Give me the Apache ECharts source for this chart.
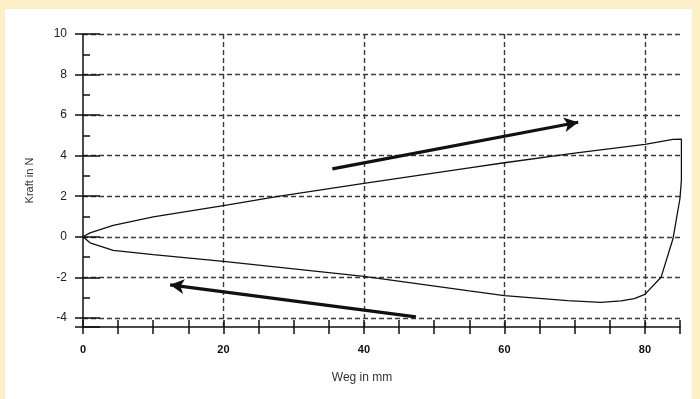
<!DOCTYPE html>
<html>
<head>
<meta charset="utf-8">
<script src="https://cdn.jsdelivr.net/npm/echarts@6/dist/echarts.min.js"></script>
<style>
  html, body { margin: 0; padding: 0; background: #fdf0c9; }
  #container { position: absolute; left: 5px; top: 9px; width: 687px; height: 390px; background: #fff; }
</style>
</head>
<body>
<div id="container"></div>
<script>
// Messwerte: Hinweg (Belastung) und Rueckweg (Entlastung)
var wegHin = [0, 1, 4.3, 10, 20, 28, 40, 55, 60, 70, 80, 84, 85.2];
var kraftHin = [0, 0.19, 0.56, 0.98, 1.54, 2.0, 2.63, 3.4, 3.65, 4.13, 4.56, 4.8, 4.82];
var wegRueck = [85.2, 85.2, 85, 84, 82.3, 80, 78.5, 76.6, 73.7, 69, 60, 55, 40, 28, 20, 10, 4.3, 1, 0];
var kraftRueck = [4.82, 2.8, 1.9, -0.1, -2.0, -2.84, -3.05, -3.16, -3.24, -3.15, -2.9, -2.67, -1.95, -1.51, -1.21, -0.88, -0.67, -0.3, 0];

// Pfeile (Start, Spitze)
var pfeilOben = [[35.5, 3.35], [70.5, 5.65]];
var pfeilUnten = [[47.4, -3.95], [12.4, -2.37]];

var xTicks = [0, 20, 40, 60, 80];
var yTicks = [-4, -2, 0, 2, 4, 6, 8, 10];

var dom = document.getElementById("container");
var myChart = echarts.init(dom);

var kurve = [];
for (var i = 0; i < wegHin.length; i++) kurve.push([wegHin[i], kraftHin[i]]);
for (var j = 0; j < wegRueck.length; j++) kurve.push([wegRueck[j], kraftRueck[j]]);

var dash = { color: '#3a3a3a', width: 1.4, type: [5, 3] };
var xMin = 0, xMax = 85, yMin = -4.45, yMax = 10;

option = {
    animation: false,
    grid: { left: 78, top: 25, right: 12, bottom: 72 },
    xAxis: [
        {
            type: 'value', min: xMin, max: xMax, interval: 20,
            name: 'Weg in mm', nameLocation: 'middle', nameGap: 45,
            nameTextStyle: { color: '#333', fontSize: 12, fontFamily: 'Liberation Sans', padding: [0, 39, 0, 0] },
            axisLine: { show: true, onZero: false, lineStyle: { color: '#111', width: 1.5 } },
            axisTick: { show: false },
            axisLabel: {
                color: '#111', fontSize: 11, fontWeight: 'bold', fontFamily: 'Liberation Sans', margin: 17,
                formatter: function (v) { return xTicks.indexOf(v) >= 0 ? String(v) : ''; }
            },
            splitLine: { show: true, showMinLine: false, showMaxLine: false, lineStyle: dash }
        },
        {
            type: 'value', min: xMin, max: xMax, interval: 5, position: 'bottom',
            axisLine: { show: false, onZero: false },
            axisTick: { show: true, inside: true, length: 7, lineStyle: { color: '#111', width: 1.5 } },
            axisLabel: { show: false }, splitLine: { show: false }
        },
        {
            type: 'value', min: xMin, max: xMax, interval: 5, position: 'bottom',
            axisLine: { show: false, onZero: false },
            axisTick: { show: true, inside: false, length: 7, lineStyle: { color: '#111', width: 1.5 } },
            axisLabel: { show: false }, splitLine: { show: false }
        }
    ],
    yAxis: [
        {
            type: 'value', min: yMin, max: yMax, splitNumber: 7,
            name: 'Kraft in N', nameLocation: 'middle', nameGap: 48,
            nameTextStyle: { color: '#333', fontSize: 11, fontFamily: 'Liberation Sans' },
            axisLine: { show: true, onZero: false, lineStyle: { color: '#111', width: 1.5 } },
            axisTick: { show: true, inside: true, length: 17, lineStyle: { color: '#111', width: 1.5 } },
            minorTick: { show: true, splitNumber: 2, length: 7, lineStyle: { color: '#111', width: 1.5 } },
            axisLabel: {
                color: '#222', fontSize: 12, fontFamily: 'Liberation Sans', margin: 16,
                showMinLabel: false,
                formatter: function (v) { return yTicks.indexOf(v) >= 0 ? String(v) : ''; }
            },
            splitLine: { show: true, showMinLine: false, lineStyle: dash }
        },
        {
            type: 'value', min: yMin, max: yMax, splitNumber: 7, position: 'left',
            axisLine: { show: false, onZero: false },
            axisTick: { show: true, inside: false, length: 8, lineStyle: { color: '#111', width: 1.5 } },
            axisLabel: { show: false }, splitLine: { show: false }
        }
    ],
    series: [
        {
            name: 'Kraft', type: 'line', data: kurve,
            showSymbol: false, symbol: 'none',
            lineStyle: { color: '#111', width: 1.3 },
            markLine: {
                silent: true, animation: false,
                symbol: ['none', 'arrow'], symbolSize: [11, 14],
                label: { show: false },
                lineStyle: { color: '#111', width: 3.2, type: 'solid' },
                data: [
                    [{ coord: pfeilOben[0] }, { coord: pfeilOben[1] }],
                    [{ coord: pfeilUnten[0] }, { coord: pfeilUnten[1] }]
                ]
            }
        }
    ]
};

if (option && typeof option === "object") {
    myChart.setOption(option, true);
}
</script>
</body>
</html>
